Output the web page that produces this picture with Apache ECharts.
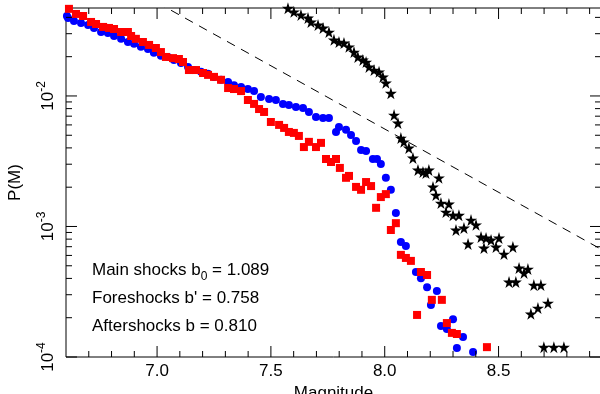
<!DOCTYPE html>
<html>
<head>
<meta charset="utf-8">
<script src="https://cdn.jsdelivr.net/npm/echarts@6/dist/echarts.min.js"></script>
<style>
  html, body { margin: 0; padding: 0; background: #fff; }
  #chart { width: 600px; height: 394px; }
</style>
</head>
<body>
<div id="chart"></div>
<script>
// main shocks (blue circles)
const mainMag = [6.604, 6.609, 6.635, 6.666, 6.697, 6.723, 6.754, 6.784, 6.811, 6.842, 6.872, 6.899, 6.929, 6.960, 6.986, 7.017, 7.048, 7.074, 7.105, 7.136, 7.162, 7.193, 7.224, 7.250, 7.281, 7.312, 7.338, 7.369, 7.399, 7.426, 7.456,
  7.492, 7.522, 7.553, 7.579, 7.610, 7.641, 7.667, 7.698, 7.729, 7.755, 7.786, 7.799, 7.830, 7.852, 7.874, 7.896, 7.918, 7.948, 7.966, 7.983, 8.005, 8.027, 8.049, 8.071, 8.093, 8.137, 8.159, 8.186, 8.229, 8.203, 8.300, 8.247, 8.273, 8.344, 8.317, 8.388];
const mainP = [0.0410, 0.0396, 0.0376, 0.0362, 0.0350, 0.0332, 0.0309, 0.0304, 0.0288, 0.0274, 0.0259, 0.0251, 0.0238, 0.0229, 0.0214, 0.0203, 0.0199, 0.0189, 0.0179, 0.0167, 0.0158, 0.0153, 0.0148, 0.0140, 0.0133, 0.0128, 0.0121, 0.0117, 0.0113, 0.0109, 0.00982,
  0.00948, 0.00931, 0.00869, 0.00853, 0.00824, 0.00809, 0.00754, 0.00690, 0.00678, 0.00678, 0.00530, 0.00578, 0.00550, 0.00502, 0.00452, 0.00385, 0.00379, 0.00329, 0.00329, 0.00301, 0.00236, 0.00191, 0.00127, 0.000760, 0.000710, 0.000448, 0.000402, 0.000343, 0.000321, 0.000250, 0.000195, 0.000173, 0.000164, 0.000142, 0.000117, 0.000109];

// foreshocks (red squares)
const foreMag = [6.613, 6.644, 6.675, 6.710, 6.732, 6.763, 6.789, 6.811, 6.842, 6.872, 6.886, 6.907, 6.938, 6.965, 6.995, 7.017, 7.039, 7.070, 7.096, 7.114, 7.140, 7.171, 7.202, 7.224, 7.250, 7.281, 7.312, 7.338, 7.369, 7.399, 7.426, 7.448, 7.470, 7.500, 7.536,
  7.558, 7.579, 7.601, 7.623, 7.645, 7.667, 7.698, 7.720, 7.742, 7.764, 7.786, 7.803, 7.830, 7.843, 7.874, 7.896, 7.918, 7.940, 7.962, 7.983, 8.005, 8.027, 8.049, 8.071, 8.093, 8.115, 8.142, 8.159, 8.186, 8.207, 8.251, 8.273, 8.295, 8.317, 8.449];
const foreP = [0.0465, 0.0425, 0.0410, 0.0369, 0.0356, 0.0338, 0.0332, 0.0326, 0.0309, 0.0309, 0.0288, 0.0274, 0.0259, 0.0246, 0.0233, 0.0217, 0.0199, 0.0195, 0.0192, 0.0182, 0.0158, 0.0158, 0.0150, 0.0145, 0.0140, 0.0133, 0.0115, 0.0113, 0.0109, 0.00931, 0.00869, 0.00794, 0.00754, 0.00632, 0.00600,
  0.00569, 0.00530, 0.00521, 0.00494, 0.00406, 0.00445, 0.00406, 0.00437, 0.00329, 0.00312, 0.00329, 0.00281, 0.00236, 0.00244, 0.00201, 0.00191, 0.00219, 0.00204, 0.00139, 0.00168, 0.00177, 0.000940, 0.00106, 0.000606, 0.000574, 0.000545, 0.000210, 0.000448, 0.000425, 0.000274, 0.000274, 0.000182, 0.000153, 0.000150, 0.000119];

// aftershocks (black stars)
const afterMag = [7.575, 7.601, 7.632, 7.663, 7.676, 7.707, 7.729, 7.755, 7.777, 7.799, 7.821, 7.843, 7.865, 7.882, 7.904, 7.918, 7.931, 7.953, 7.975, 7.992, 8.005, 8.027, 8.041, 8.058, 8.071, 8.084, 8.106, 8.124, 8.146, 8.168, 8.181, 8.194, 8.238,
  8.212, 8.225, 8.247, 8.269, 8.282, 8.300, 8.326, 8.379, 8.401, 8.348, 8.313, 8.423, 8.445, 8.467, 8.502, 8.366, 8.436, 8.489, 8.563, 8.524, 8.590, 8.629, 8.612, 8.546, 8.576, 8.655, 8.686, 8.717, 8.673, 8.642, 8.699, 8.743, 8.787];
const afterP = [0.0470, 0.0441, 0.0418, 0.0396, 0.0369, 0.0350, 0.0332, 0.0309, 0.0269, 0.0259, 0.0255, 0.0238, 0.0217, 0.0199, 0.0189, 0.0182, 0.0167, 0.0158, 0.0153, 0.0140, 0.0126, 0.0105, 0.00714, 0.00621, 0.00476, 0.00445, 0.00400, 0.00335, 0.00271, 0.00262, 0.00257, 0.00271, 0.00236,
  0.00201, 0.00174, 0.00151, 0.00129, 0.00149, 0.00122, 0.00122, 0.00112, 0.00103, 0.000975, 0.000940, 0.000832, 0.000817, 0.000789, 0.000817, 0.000735, 0.000684, 0.000697, 0.000697, 0.000615, 0.000481, 0.000472, 0.000441, 0.000376, 0.000376, 0.000356, 0.000356, 0.000259, 0.000237, 0.000214, 0.000119, 0.000119, 0.000119];

// dashed reference line (two end points)
const refMag = [7.0, 8.95];
const refP = [0.052, 0.00067];

// axis ticks
const xMajorTicks = [7.0, 7.5, 8.0, 8.5];
const xMinorTicks = [6.7, 6.8, 6.9, 7.1, 7.2, 7.3, 7.4, 7.6, 7.7, 7.8, 7.9, 8.1, 8.2, 8.3, 8.4, 8.6, 8.7, 8.8, 8.9];
const yMajorTicks = [1e-4, 1e-3, 1e-2];
const yMinorTicks = [2e-4, 3e-4, 4e-4, 5e-4, 6e-4, 7e-4, 8e-4, 9e-4, 2e-3, 3e-3, 4e-3, 5e-3, 6e-3, 7e-3, 8e-3, 9e-3, 2e-2, 3e-2, 4e-2];

const notes = [
  '{n|Main shocks b}{sub|0}{n| = 1.089}',
  "{n|Foreshocks b' = 0.758}",
  '{n|Aftershocks b = 0.810}'
];

const X_MIN = 6.6, X_MAX = 8.95, Y_MIN = 1e-4, Y_MAX = 0.0472;
const FONT = 'Liberation Sans';
const STAR = 'path://M50,0 L61,35 L98,35 L68,57 L79,91 L50,70 L21,91 L32,57 L2,35 L39,35 Z';

const zip = (a, b) => a.map((v, i) => [v, b[i]]);

const tickData = []
  .concat(xMajorTicks.map(v => [0, v, 11]))
  .concat(xMinorTicks.map(v => [0, v, 6]))
  .concat(yMajorTicks.map(v => [1, v, 11]))
  .concat(yMinorTicks.map(v => [1, v, 6]));

const chart = echarts.init(document.getElementById('chart'));

const option = {
  animation: false,
  backgroundColor: '#fff',
  textStyle: { fontFamily: FONT },
  grid: {
    left: 66, right: -1, top: 8, bottom: 37,
    outerBoundsMode: 'none',
    containLabel: false,
    show: true, borderColor: '#000', borderWidth: 1
  },
  xAxis: {
    type: 'value',
    min: X_MIN, max: X_MAX, interval: 0.1,
    axisLine: { show: false },
    axisTick: { show: false },
    splitLine: { show: false },
    axisLabel: {
      interval: 0,
      margin: 6,
      color: '#000',
      fontSize: 17,
      fontFamily: FONT,
      formatter: v => xMajorTicks.some(t => Math.abs(t - v) < 1e-6) ? v.toFixed(1) : ''
    },
    name: 'Magnitude',
    nameLocation: 'middle',
    nameGap: 20,
    nameTextStyle: { color: '#000', fontSize: 17, fontFamily: FONT }
  },
  yAxis: {
    type: 'log',
    logBase: 10,
    min: Y_MIN, max: Y_MAX,
    axisLine: { show: false },
    axisTick: { show: false },
    splitLine: { show: false },
    axisLabel: {
      rotate: 90,
      margin: 9,
      color: '#000',
      formatter: v => {
        const e = Math.round(Math.log10(v));
        return Math.abs(v - Math.pow(10, e)) / v < 1e-6 ? '{b|10}{s|' + e + '}' : '';
      },
      rich: {
        b: { fontSize: 17, fontFamily: FONT, color: '#000', verticalAlign: 'bottom' },
        s: { fontSize: 12, fontFamily: FONT, color: '#000', verticalAlign: 'bottom', padding: [0, 0, 9, 0] }
      }
    },
    name: 'P(M)',
    nameLocation: 'middle',
    nameGap: 42,
    nameTextStyle: { color: '#000', fontSize: 17, fontFamily: FONT }
  },
  graphic: notes.map((t, i) => ({
    type: 'text',
    left: 92,
    top: 262 + i * 28,
    style: {
      text: t,
      rich: {
        n: { fontSize: 17, fontFamily: FONT, fill: '#000', verticalAlign: 'top' },
        sub: { fontSize: 12, fontFamily: FONT, fill: '#000', verticalAlign: 'top', padding: [9, 0, 0, 0] }
      }
    }
  })),
  series: [
    {
      type: 'line',
      data: zip(refMag, refP),
      symbol: 'none',
      lineStyle: { color: '#000', width: 1, type: [9, 7] },
      z: 1
    },
    {
      name: 'Main shocks',
      type: 'scatter',
      data: zip(mainMag, mainP),
      symbol: 'circle',
      symbolSize: 8,
      itemStyle: { color: '#0000ff', opacity: 1 },
      z: 2
    },
    {
      name: 'Foreshocks',
      type: 'scatter',
      data: zip(foreMag, foreP),
      symbol: 'rect',
      symbolSize: 8,
      itemStyle: { color: '#ff0000', opacity: 1 },
      z: 3
    },
    {
      name: 'Aftershocks',
      type: 'scatter',
      data: zip(afterMag, afterP),
      symbol: STAR,
      symbolSize: 12,
      itemStyle: { color: '#000', opacity: 1 },
      z: 4
    },
    {
      // tick marks on all four sides, placed through the axes
      type: 'custom',
      data: tickData,
      silent: true,
      z: 5,
      renderItem: (params, api) => {
        const side = api.value(0), v = api.value(1), len = api.value(2);
        const st = { stroke: '#000', lineWidth: 1 };
        let a, b, s1, s2;
        if (side === 0) {
          a = api.coord([v, Y_MIN]);
          b = api.coord([v, Y_MAX]);
          s1 = { x1: a[0], y1: a[1], x2: a[0], y2: a[1] - len };
          s2 = { x1: b[0], y1: b[1], x2: b[0], y2: b[1] + len };
        } else {
          a = api.coord([X_MIN, v]);
          b = api.coord([X_MAX, v]);
          s1 = { x1: a[0], y1: a[1], x2: a[0] + len, y2: a[1] };
          s2 = { x1: b[0], y1: b[1], x2: b[0] - len, y2: b[1] };
        }
        return {
          type: 'group',
          children: [
            { type: 'line', shape: s1, style: st },
            { type: 'line', shape: s2, style: st }
          ]
        };
      }
    }
  ]
};

chart.setOption(option);
</script>
</body>
</html>
